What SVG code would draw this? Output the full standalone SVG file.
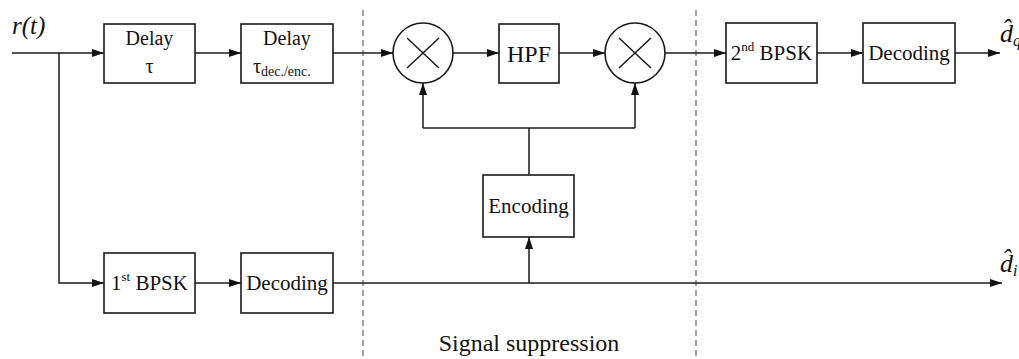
<svg xmlns="http://www.w3.org/2000/svg" width="1019" height="359" viewBox="0 0 1019 359" font-family="Liberation Serif, Tinos, Times New Roman, Times, Nimbus Roman, FreeSerif, DejaVu Serif, serif">
<style>
.box{fill:#fff;stroke:#1a1a1a;stroke-width:1.6}
.ln{fill:none;stroke:#1a1a1a;stroke-width:1.5}
.dash{fill:none;stroke:#555;stroke-width:1.1;stroke-dasharray:6 4}
text{fill:#111}
.t{text-anchor:middle}
.it{font-style:italic}
</style>
<defs>
<marker id="ah" viewBox="0 0 12 8" refX="12" refY="4" markerWidth="12" markerHeight="8" markerUnits="userSpaceOnUse" orient="auto">
<path d="M0,0 L12,4 L0,8 Z" fill="#111"/>
</marker>
</defs>
<rect width="1019" height="359" fill="#fff"/>
<g id="dividers">
<line class="dash" x1="363" y1="10" x2="363" y2="359"/>
<line class="dash" x1="696" y1="10" x2="696" y2="359"/>
</g>
<g id="connectors">
<line class="ln" x1="12" y1="53" x2="104" y2="53" marker-end="url(#ah)"/>
<polyline class="ln" points="59,53 59,283 104,283" marker-end="url(#ah)"/>
<line class="ln" x1="195" y1="53" x2="241" y2="53" marker-end="url(#ah)"/>
<line class="ln" x1="333" y1="53" x2="393" y2="53" marker-end="url(#ah)"/>
<line class="ln" x1="453" y1="53" x2="499" y2="53" marker-end="url(#ah)"/>
<line class="ln" x1="559" y1="53" x2="605" y2="53" marker-end="url(#ah)"/>
<line class="ln" x1="665" y1="53" x2="726" y2="53" marker-end="url(#ah)"/>
<line class="ln" x1="817" y1="53" x2="863" y2="53" marker-end="url(#ah)"/>
<line class="ln" x1="955" y1="53" x2="1000" y2="53" marker-end="url(#ah)"/>
<line class="ln" x1="195" y1="283" x2="241" y2="283" marker-end="url(#ah)"/>
<line class="ln" x1="333" y1="283" x2="1002" y2="283" marker-end="url(#ah)"/>
<line class="ln" x1="529" y1="283" x2="529" y2="237" marker-end="url(#ah)"/>
<line class="ln" x1="529" y1="175" x2="529" y2="128"/>
<line class="ln" x1="423" y1="128" x2="635" y2="128"/>
<line class="ln" x1="423" y1="128" x2="423" y2="83" marker-end="url(#ah)"/>
<line class="ln" x1="635" y1="128" x2="635" y2="83" marker-end="url(#ah)"/>
</g>
<g id="input-label">
<text class="it" x="12" y="34" font-size="25">r(t)</text>
</g>
<g id="delay1">
<rect class="box" x="104" y="24" width="91" height="59"/>
<text class="t" x="149.5" y="45" font-size="20">Delay</text>
<text class="t" x="149.5" y="73" font-size="20">τ</text>
</g>
<g id="delay2">
<rect class="box" x="241" y="24" width="92" height="59"/>
<text class="t" x="287" y="45" font-size="20">Delay</text>
<text x="253" y="73" font-size="20">τ<tspan font-size="14" dy="3">dec./enc.</tspan></text>
</g>
<g id="mixer1">
<circle class="box" cx="423" cy="53" r="30"/>
<path class="ln" stroke-width="2.2" d="M407,38 L439,68 M439,38 L407,68"/>
</g>
<g id="hpf">
<rect class="box" x="499" y="24" width="60" height="59"/>
<text class="t" x="529" y="62" font-size="24">HPF</text>
</g>
<g id="mixer2">
<circle class="box" cx="635" cy="53" r="30"/>
<path class="ln" stroke-width="2.2" d="M619,38 L651,68 M651,38 L619,68"/>
</g>
<g id="bpsk2">
<rect class="box" x="726" y="23" width="91" height="60"/>
<text class="t" x="771.5" y="60" font-size="21">2<tspan font-size="13" dy="-9">nd</tspan><tspan dy="9"> BPSK</tspan></text>
</g>
<g id="decoding-top">
<rect class="box" x="863" y="23" width="92" height="60"/>
<text class="t" x="909" y="60" font-size="21">Decoding</text>
</g>
<g id="output-top">
<text class="it" x="1000" y="42" font-size="26">d̂<tspan font-size="16" dy="4">q</tspan></text>
</g>
<g id="encoding">
<rect class="box" x="483" y="175" width="91" height="62"/>
<text class="t" x="528.5" y="213" font-size="21">Encoding</text>
</g>
<g id="bpsk1">
<rect class="box" x="104" y="253" width="91" height="60"/>
<text class="t" x="149.5" y="290" font-size="21">1<tspan font-size="13" dy="-9">st</tspan><tspan dy="9"> BPSK</tspan></text>
</g>
<g id="decoding-bottom">
<rect class="box" x="241" y="253" width="92" height="60"/>
<text class="t" x="287" y="290" font-size="21">Decoding</text>
</g>
<g id="output-bottom">
<text class="it" x="1000" y="272" font-size="26">d̂<tspan font-size="16" dy="4">i</tspan></text>
</g>
<g id="caption">
<text class="t" x="529" y="351" font-size="24">Signal suppression</text>
</g>
</svg>
